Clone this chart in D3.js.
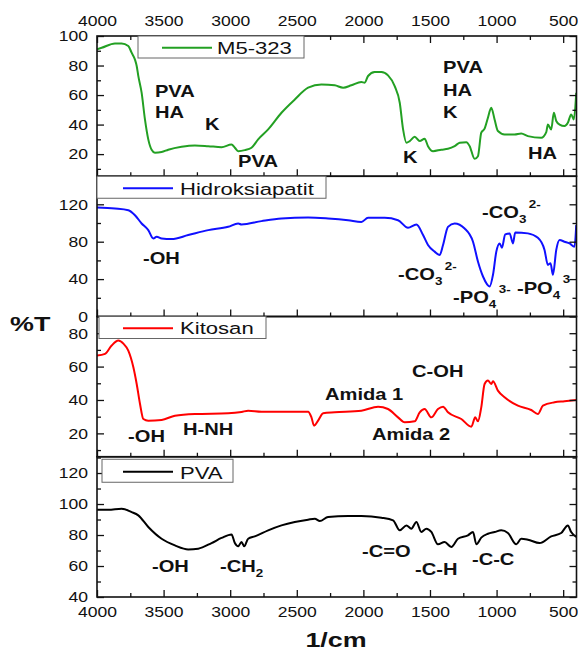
<!DOCTYPE html>
<html lang="id">
<head>
<meta charset="UTF-8">
<title>FTIR M5-323</title>
<script src="https://cdn.jsdelivr.net/npm/d3@7"></script>
<style>
  body { margin: 0; background: #fff; }
  svg { display: block; font-family: "Liberation Sans", Arial, sans-serif; }
</style>
</head>
<body>
<svg id="chart" width="578" height="650"></svg>
<script>
// --- data (wavenumber 1/cm, %T) ---
const seriesNames = ["M5-323", "Hidroksiapatit", "Kitosan", "PVA"];

const m5Wave = [4000,3965,3865,3815,3765,3740,3715,3702,3690,3665,3640,3615,3590,3565,3515,3465,3365,3265,3165,3065,2990,2965,2940,2890,2840,2790,2715,2615,2515,2415,2315,2215,2152,2090,2015,1990,1965,1915,1865,1815,1765,1727,1702,1677,1652,1615,1577,1540,1515,1477,1415,1365,1315,1277,1227,1202,1165,1140,1115,1090,1065,1040,1015,990,940,865,815,765,665,627,615,590,570,552,527,490,465,440,420,402];
const m5T    = [91,92,95,95,93.2,88.7,84,79.7,73,61.6,43.5,30,23,21,21.4,23,25,25.9,25.4,24.7,26.5,24.3,22,22.7,24.3,30,36.7,48,57,65,67.2,66.6,65,66.6,68.8,68.4,72.9,75.6,75.6,73.3,66,54.8,36.7,27.7,28.8,31.7,28.8,30.4,25.4,22,23,23.6,25.4,27.7,28.1,25.4,16.8,18.6,34.5,37.2,44.6,51.4,43.5,35.6,33.3,33.3,34,32.2,31,34.9,40,36.7,48,42.4,40,39,41.2,46.9,43.5,61.6];

const haWave = [4000,3865,3765,3715,3665,3615,3577,3552,3515,3440,3315,3165,3015,2940,2915,2765,2615,2415,2265,2115,2015,1965,1840,1740,1665,1602,1552,1515,1465,1427,1402,1365,1315,1240,1177,1140,1102,1052,1027,1002,977,960,935,902,877,860,765,690,640,615,595,577,552,527,490,452,415,402];
const haT    = [116.5,115.4,113.6,108.3,99.5,92.4,83.5,85.3,83.5,82.8,87.1,92.4,95.9,99.5,98.4,102,104.8,105.8,104.8,103,101.2,105.5,105.5,103,94.9,98.4,87.1,76.5,69.4,65.8,76.5,95.9,99.5,94.2,80,58.8,42.8,32.2,44.6,69.4,78.2,73.6,87.8,88.9,78.2,89.9,88.9,84.2,71.2,55.2,57,44.6,71.2,81.8,80,78.2,74.7,97.7];

const kitWave = [4000,3940,3890,3840,3800,3765,3727,3702,3677,3652,3615,3515,3415,3265,3015,2915,2865,2765,2415,2390,2370,2340,2302,2215,2015,1890,1815,1740,1690,1615,1577,1540,1490,1440,1402,1365,1265,1190,1160,1140,1115,1090,1065,1040,1027,990,940,840,740,690,652,565,490,402];
const kitT    = [66.6,67.6,72.6,75.6,73.6,69.6,59.6,49.6,37.6,28.6,27.6,28,30.6,31.6,32,32.8,33.6,33,33,29.6,24.6,27.6,32,32.6,33.6,36,34.6,29.6,26.6,27.2,32.6,34.6,29.6,34.6,36,32.6,28.6,24,29.6,27.2,35.6,49.6,51.6,49.6,51.2,45.6,41.6,36.6,34,31.6,36.6,38.6,39.2,40];

const pvaWave = [4000,3915,3815,3740,3690,3615,3515,3415,3315,3240,3140,3065,2990,2965,2940,2915,2895,2865,2815,2715,2615,2515,2415,2365,2327,2265,2115,2015,1865,1777,1727,1677,1640,1602,1565,1527,1490,1440,1390,1340,1290,1215,1177,1152,1115,1065,1015,965,915,852,815,765,677,590,515,465,440,402];
const pvaT    = [96.3,96.3,97,94.8,92.7,85.2,77.6,73.3,70.7,71.2,74.8,78.1,80.4,74.8,72.7,75.5,72.7,77.6,79.1,83,86.2,88.4,89.9,90.5,89,91.6,92.2,92.2,91.2,89.5,83,86.2,84.1,88.4,82,84.1,82,74,75.5,72.3,77.6,79.8,81.9,74,78.3,80.8,81.9,83,81.3,74,77.6,77,74.8,79.1,81.3,86.2,81.9,78.7];

// tick values
const xMajor = [4000,3500,3000,2500,2000,1500,1000,500];
const xMinor = [3750,3250,2750,2250,1750,1250,750];
const yMajorM5 = [20,40,60,80,100],  yMinorM5 = [10,30,50,70,90];
const yMajorHA = [0,40,80,120],      yMinorHA = [20,60,100,140];
const yMajorKit = [20,40,60,80],     yMinorKit = [10,30,50,70];
const yMajorPVA = [40,60,80,100,120], yMinorPVA = [50,70,90,110,130];

// band labels (wavenumber, %T of the text baseline)
const annM5 = [
  {t:"PVA", w:3565, v:58.7}, {t:"HA", w:3565, v:44.4}, {t:"K", w:3189, v:36.3},
  {t:"PVA", w:2941, v:11.2}, {t:"K", w:1703, v:14},
  {t:"PVA", w:1402, v:74.9}, {t:"HA", w:1402, v:59.3}, {t:"K", w:1402, v:44.4},
  {t:"HA", w:764, v:16.7}
];
const annHA = [
  {t:"-OH", w:3655, v:56},
  {t:"-CO", sub:"3", sup:"2-", w:1109, v:105.3},
  {t:"-CO", sub:"3", sup:"2-", w:1740, v:39},
  {t:"-PO", sub:"4", sup:"3-", w:1327, v:14.4},
  {t:"-PO", sub:"4", sup:"3", w:847, v:24.1}
];
const annKit = [
  {t:"-OH", w:3767, v:14.9}, {t:"H-NH", w:3354, v:19},
  {t:"Amida 1", w:2288, v:40}, {t:"C-OH", w:1635, v:53.8},
  {t:"Amida 2", w:1935, v:16}
];
const annPVA = [
  {t:"-OH", w:3587, v:56.1}, {t:"-CH", sub:"2", w:3077, v:56.1},
  {t:"-C=O", w:2010, v:65.8}, {t:"-C-H", w:1612, v:54.2},
  {t:"-C-C", w:1185, v:60.7}
];

// --- layout ---
const svg = d3.select("#chart");
const left = 97, right = 576.5, top0 = 36, panelH = 140.25;
const K_TICK = 1.17, K_LEG = 1.3, K_ANN = 1.22, K_TITLE = 1.28; // glyphs are drawn wide in the original

const x = d3.scaleLinear().domain([4000, 400]).range([left, right]);

const panels = [
  {name: seriesNames[0], color: "#23a023", wave: m5Wave, val: m5T, domain: [5, 100], major: yMajorM5, minor: yMinorM5, ann: annM5,
   leg: {x0: 138, x1: 304, y0: 0, y1: 22, l0: 162, l1: 212, tx: 217, ly: 11.7, ty: 17.5}},
  {name: seriesNames[1], color: "#1010ff", wave: haWave, val: haT, domain: [0, 150], major: yMajorHA, minor: yMinorHA, ann: annHA,
   leg: {x0: 97, x1: 326, y0: 0, y1: 22, l0: 123, l1: 173, tx: 180, ly: 12, ty: 18.3}},
  {name: seriesNames[2], color: "#ff0000", wave: kitWave, val: kitT, domain: [6, 90], major: yMajorKit, minor: yMinorKit, ann: annKit,
   leg: {x0: 99, x1: 266, y0: 0, y1: 22, l0: 123, l1: 173, tx: 180, ly: 11.8, ty: 17.5}},
  {name: seriesNames[3], color: "#000000", wave: pvaWave, val: pvaT, domain: [40, 130.5], major: yMajorPVA, minor: yMinorPVA, ann: annPVA,
   leg: {x0: 102, x1: 233, y0: 2.5, y1: 25.5, l0: 123, l1: 173, tx: 180, ly: 15, ty: 22}}
];

// wide text helper
function wideText(parent, px, py, str, size, k, opts = {}) {
  return parent.append("text")
    .attr("transform", `translate(${px},${py}) scale(${k},1)`)
    .attr("font-size", size)
    .attr("font-weight", opts.bold ? "bold" : null)
    .attr("text-anchor", opts.anchor || "start")
    .attr("fill", "#111")
    .text(str);
}

// d3 axes leave text at x offsets; move that into the transform and widen
function widenTicks(g, k, size) {
  g.selectAll(".tick text").each(function() {
    const t = d3.select(this);
    const tx = +t.attr("x") || 0;
    t.attr("x", null)
      .attr("transform", `translate(${tx},0) scale(${k},1)`)
      .attr("font-size", size)
      .attr("fill", "#111");
  });
}

function cleanAxis(g) {
  g.select(".domain").remove();
  g.selectAll(".tick line").attr("stroke", "#111").attr("stroke-width", 1.3);
}

panels.forEach((p, i) => {
  const y0 = top0 + i * panelH, y1 = y0 + panelH;
  const y = d3.scaleLinear().domain(p.domain).range([y1, y0]);
  const g = svg.append("g");

  g.append("clipPath").attr("id", "clip" + i)
    .append("rect").attr("x", left).attr("y", y0).attr("width", right - left).attr("height", panelH);

  // spectrum
  const pts = p.wave.map((w, j) => [w, p.val[j]]);
  g.append("path")
    .datum(pts)
    .attr("clip-path", `url(#clip${i})`)
    .attr("fill", "none")
    .attr("stroke", p.color)
    .attr("stroke-width", 2)
    .attr("stroke-linejoin", "round")
    .attr("d", d3.line().x(d => x(d[0])).y(d => y(d[1])).curve(d3.curveMonotoneX));

  // bottom ticks (inward)
  const gb = g.append("g").attr("transform", `translate(0,${y1})`)
    .call(d3.axisBottom(x).tickValues(xMajor).tickSizeInner(-7).tickSizeOuter(0).tickPadding(9.5)
      .tickFormat(i === 3 ? d3.format("d") : ""));
  cleanAxis(gb);
  if (i === 3) widenTicks(gb, K_TICK, 15);
  const gbm = g.append("g").attr("transform", `translate(0,${y1})`)
    .call(d3.axisBottom(x).tickValues(xMinor).tickSizeInner(-4).tickSizeOuter(0).tickFormat(""));
  cleanAxis(gbm);

  // top ticks on the first panel, with labels
  if (i === 0) {
    const gt = g.append("g").attr("transform", `translate(0,${y0})`)
      .call(d3.axisTop(x).tickValues(xMajor).tickSizeInner(-7).tickSizeOuter(0).tickPadding(10).tickFormat(d3.format("d")));
    cleanAxis(gt);
    widenTicks(gt, K_TICK, 15);
    const gtm = g.append("g").attr("transform", `translate(0,${y0})`)
      .call(d3.axisTop(x).tickValues(xMinor).tickSizeInner(-4).tickSizeOuter(0).tickFormat(""));
    cleanAxis(gtm);
  }

  // left axis
  const gl = g.append("g").attr("transform", `translate(${left},0)`)
    .call(d3.axisLeft(y).tickValues(p.major).tickSizeInner(-7).tickSizeOuter(0).tickPadding(9).tickFormat(d3.format("d")));
  cleanAxis(gl);
  widenTicks(gl, K_TICK, 15);
  const glm = g.append("g").attr("transform", `translate(${left},0)`)
    .call(d3.axisLeft(y).tickValues(p.minor).tickSizeInner(-4).tickSizeOuter(0).tickFormat(""));
  cleanAxis(glm);

  // right axis
  const gr = g.append("g").attr("transform", `translate(${right},0)`)
    .call(d3.axisRight(y).tickValues(p.major).tickSizeInner(-7).tickSizeOuter(0).tickFormat(""));
  cleanAxis(gr);
  const grm = g.append("g").attr("transform", `translate(${right},0)`)
    .call(d3.axisRight(y).tickValues(p.minor).tickSizeInner(-4).tickSizeOuter(0).tickFormat(""));
  cleanAxis(grm);

  // frame
  g.append("rect")
    .attr("x", left).attr("y", y0).attr("width", right - left).attr("height", panelH)
    .attr("fill", "none").attr("stroke", "#111").attr("stroke-width", 1.6);

  // legend
  const L = p.leg;
  g.append("rect")
    .attr("x", L.x0).attr("y", y0 + L.y0).attr("width", L.x1 - L.x0).attr("height", L.y1 - L.y0)
    .attr("fill", "#fff").attr("stroke", "#666").attr("stroke-width", 1);
  g.append("line")
    .attr("x1", L.l0).attr("x2", L.l1).attr("y1", y0 + L.ly).attr("y2", y0 + L.ly)
    .attr("stroke", p.color).attr("stroke-width", 2);
  wideText(g, L.tx, y0 + L.ty, p.name, 17, K_LEG);

  // band labels
  p.ann.forEach(a => {
    const t = wideText(g, x(a.w), y(a.v), "", 16.5, K_ANN, {bold: true});
    t.append("tspan").text(a.t);
    if (a.sub) t.append("tspan").attr("font-size", 11).attr("dy", 5).text(a.sub);
    if (a.sup) t.append("tspan").attr("font-size", 11).attr("dx", 2).attr("dy", a.sub ? -15.5 : -10).text(a.sup);
  });
});

// axis titles
wideText(svg, 10, 331, "%T", 21, K_TITLE, {bold: true});
wideText(svg, 336, 647, "1/cm", 21, K_TITLE, {bold: true, anchor: "middle"});
</script>
</body>
</html>
